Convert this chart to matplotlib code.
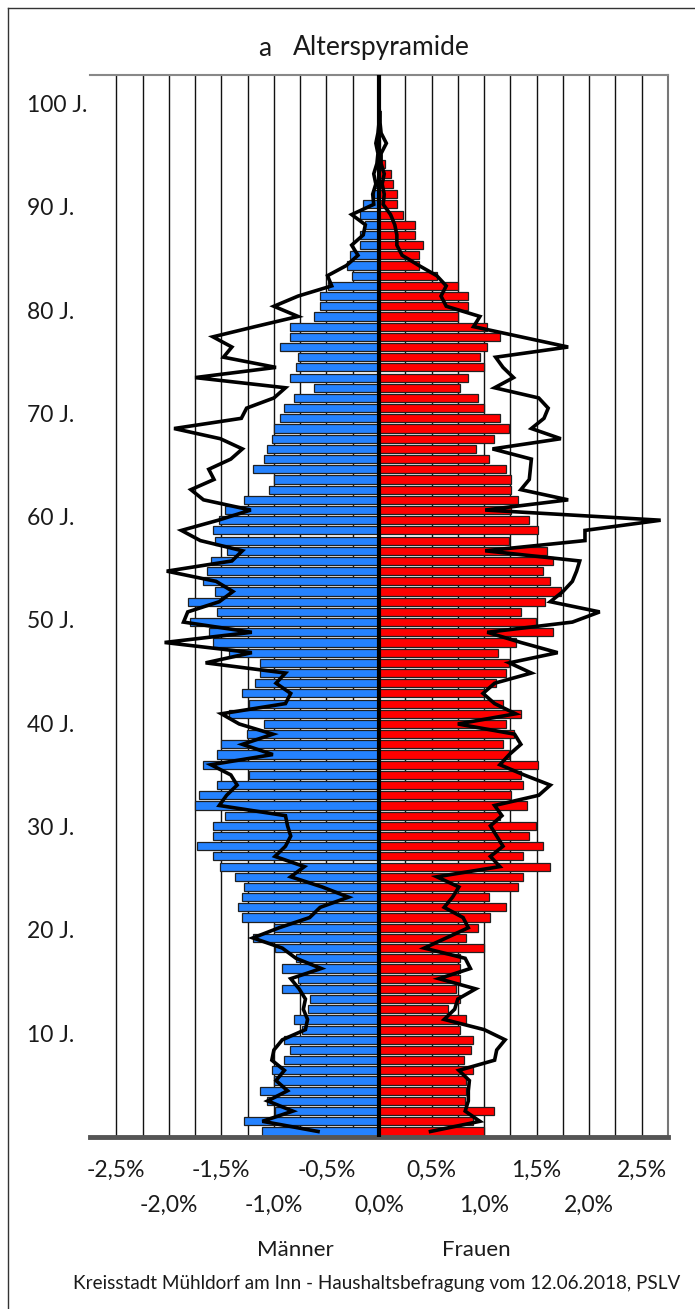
import numpy as np
import matplotlib
matplotlib.use("Agg")
import matplotlib.pyplot as plt
from matplotlib.transforms import blended_transform_factory
from matplotlib.lines import Line2D

plt.rcParams['font.family'] = ['Lato', 'DejaVu Sans']

ages = list(range(0, 101))

men = [-1.11, -1.28, -0.99, -1.07, -1.13, -1.00, -1.02, -0.90, -0.85, -0.90,
       -0.73, -0.81, -0.68, -0.66, -0.92, -0.77, -0.92, -0.79, -0.99, -1.20,
       -1.00, -1.30, -1.34, -1.30, -1.28, -1.37, -1.51, -1.58, -1.73, -1.58,
       -1.58, -1.47, -1.75, -1.71, -1.54, -1.24, -1.67, -1.54, -1.50, -1.26,
       -1.09, -1.43, -1.24, -1.30, -1.18, -1.13, -1.13, -1.43, -1.58, -1.62,
       -1.80, -1.54, -1.82, -1.56, -1.67, -1.64, -1.60, -1.45, -1.56, -1.58,
       -1.52, -1.47, -1.28, -1.05, -1.00, -1.20, -1.09, -1.07, -1.02, -1.00,
       -0.94, -0.90, -0.81, -0.62, -0.85, -0.79, -0.77, -0.94, -0.85, -0.85,
       -0.62, -0.56, -0.56, -0.49, -0.26, -0.30, -0.28, -0.18, -0.18, -0.13,
       -0.18, -0.15, -0.05, -0.035, -0.01, -0.01, -0.01, -0.01, -0.01, -0.01,
       -0.01]

women = [1.00, 0.89, 1.09, 0.82, 0.83, 0.83, 0.89, 0.81, 0.88, 0.89,
         0.77, 0.83, 0.66, 0.77, 0.73, 0.77, 0.77, 0.77, 1.00, 0.83,
         0.94, 1.06, 1.21, 1.05, 1.32, 1.37, 1.63, 1.37, 1.56, 1.43,
         1.49, 1.15, 1.41, 1.26, 1.37, 1.35, 1.51, 1.24, 1.18, 1.28,
         1.21, 1.35, 1.18, 1.00, 1.11, 1.21, 1.24, 1.13, 1.30, 1.66,
         1.49, 1.35, 1.58, 1.73, 1.63, 1.56, 1.66, 1.60, 1.24, 1.51,
         1.43, 1.26, 1.32, 1.26, 1.26, 1.21, 1.05, 0.92, 1.09, 1.24,
         1.15, 1.00, 0.94, 0.77, 0.85, 1.00, 0.96, 1.03, 1.15, 1.03,
         0.75, 0.85, 0.85, 0.75, 0.55, 0.38, 0.38, 0.42, 0.34, 0.34,
         0.23, 0.17, 0.17, 0.13, 0.11, 0.06, 0.005, 0.005, 0.005, 0.005,
         0.005]

men_ref = [-0.58, -1.11, -0.82, -1.06, -0.87, -0.98, -0.90, -1.02, -1.00, -0.92,
           -0.70, -0.68, -0.72, -0.70, -0.76, -0.84, -0.55, -0.79, -0.92, -1.20,
           -0.95, -0.66, -0.56, -0.29, -0.54, -0.84, -0.71, -0.99, -0.89, -0.84,
           -0.87, -0.89, -1.52, -1.45, -1.35, -1.41, -1.60, -1.01, -1.30, -1.01,
           -1.33, -1.50, -0.89, -0.84, -0.98, -0.89, -1.65, -1.21, -2.04, -1.21,
           -1.86, -1.82, -1.52, -1.39, -1.55, -2.02, -1.40, -1.30, -1.70, -1.88,
           -1.53, -1.22, -1.67, -1.79, -1.57, -1.62, -1.41, -1.30, -1.51, -1.95,
           -1.31, -1.26, -1.00, -0.89, -1.75, -0.98, -1.48, -1.40, -1.58, -1.18,
           -0.77, -1.00, -0.77, -0.45, -0.49, -0.31, -0.20, -0.26, -0.15, -0.13,
           -0.26, -0.05, -0.06, -0.03, -0.05, -0.02, -0.01, -0.03, -0.01, 0.0,
           0.0]

women_ref = [0.49, 0.96, 0.82, 0.85, 0.85, 0.86, 0.76, 1.10, 1.12, 1.20,
             1.00, 0.62, 0.72, 0.75, 0.92, 0.57, 0.87, 0.82, 0.43, 0.64,
             0.85, 0.80, 0.62, 0.70, 0.76, 0.55, 1.15, 1.06, 1.18, 1.12,
             1.06, 1.17, 1.10, 1.52, 1.63, 1.38, 1.15, 1.24, 1.35, 1.29,
             0.75, 1.30, 1.10, 0.99, 1.10, 1.45, 1.24, 1.70, 1.35, 1.03,
             1.84, 2.10, 1.63, 1.75, 1.84, 1.88, 1.91, 1.01, 1.96, 1.96,
             2.68, 1.01, 1.80, 1.35, 1.43, 1.44, 1.45, 1.08, 1.73, 1.45,
             1.57, 1.61, 1.52, 1.10, 1.28, 1.18, 1.11, 1.80, 1.35, 0.90,
             0.96, 0.64, 0.59, 0.64, 0.55, 0.38, 0.22, 0.17, 0.17, 0.15,
             0.11, 0.04, 0.05, 0.03, 0.05, 0.02, 0.02, 0.07, 0.02, 0.01,
             0.01]

x_ticks = [-2.5, -2.0, -1.5, -1.0, -0.5, 0.0, 0.5, 1.0, 1.5, 2.0, 2.5]
y_label_ages = [10, 20, 30, 40, 50, 60, 70, 80, 90, 100]

W, H = 695, 1309
fig = plt.figure(figsize=(W / 100, H / 100), dpi=100)
fig.patch.set_facecolor('white')
ax = fig.add_axes([90 / W, 1 - 1137 / H, 578 / W, (1137 - 75) / H])
ax.set_xlim(-2.75, 2.75)
ax.set_ylim(-0.54, 103.7)

for v in np.arange(-2.5, 2.51, 0.25):
    ax.axvline(v, color='#111111', lw=1.0, zorder=0)

ax.barh(ages, men, height=0.8, color='#2482FF', edgecolor='#202020', lw=0.9, zorder=2)
ax.barh(ages, women, height=0.8, color='#FF0000', edgecolor='#202020', lw=0.9, zorder=2)
ax.plot(men_ref, ages, color='black', lw=2.6, zorder=4, solid_joinstyle='miter')
ax.plot(women_ref, ages, color='black', lw=2.6, zorder=4, solid_joinstyle='miter')
ax.axvline(0, color='black', lw=3, zorder=5)

ax.set_xticks([])
ax.set_yticks([])
ax.spines['left'].set_visible(False)
ax.spines['right'].set_color('#777777')
ax.spines['right'].set_linewidth(1.5)
ax.spines['top'].set_color('#888888')
ax.spines['top'].set_linewidth(1.5)
ax.spines['bottom'].set_color('#555555')
ax.spines['bottom'].set_linewidth(3.5)

TXT = dict(color='#1a1a1a')

# x tick labels in two staggered rows
tr = blended_transform_factory(ax.transData, ax.transAxes)
for i, v in enumerate(x_ticks):
    lab = f"{v:.1f}%".replace('.', ',')
    ypos = -0.031 if i % 2 == 0 else -0.064
    ax.text(v, ypos, lab, transform=tr, ha='center', va='center', fontsize=16.5, **TXT)

# y labels
ytr = blended_transform_factory(fig.transFigure, ax.transData)
for a in y_label_ages:
    ax.text(27 / W, a * 1.0137 - 0.67, f"{a} J.", transform=ytr, ha='left', va='center',
            fontsize=16.5, **TXT)

fig.text(258 / W, 1 - 48 / H, "a", ha='left', va='center', fontsize=19, **TXT)
fig.text(293 / W, 1 - 48 / H, "Alterspyramide", ha='left', va='center', fontsize=19, **TXT)
fig.text(295 / W, 1 - 1250 / H, "Männer", ha='center', va='center', fontsize=16, **TXT)
fig.text(476 / W, 1 - 1250 / H, "Frauen", ha='center', va='center', fontsize=16, **TXT)
fig.text(377 / W, 1 - 1283 / H, "Kreisstadt Mühldorf am Inn - Haushaltsbefragung vom 12.06.2018, PSLV",
         ha='center', va='center', fontsize=13.6, **TXT)

# outer frame
fig.add_artist(Line2D([8 / W, 8 / W], [0, 1 - 8 / H], transform=fig.transFigure, color='#333333', lw=1))
fig.add_artist(Line2D([8 / W, 1], [1 - 8 / H, 1 - 8 / H], transform=fig.transFigure, color='#333333', lw=1))

fig.savefig('out.png', dpi=100)
